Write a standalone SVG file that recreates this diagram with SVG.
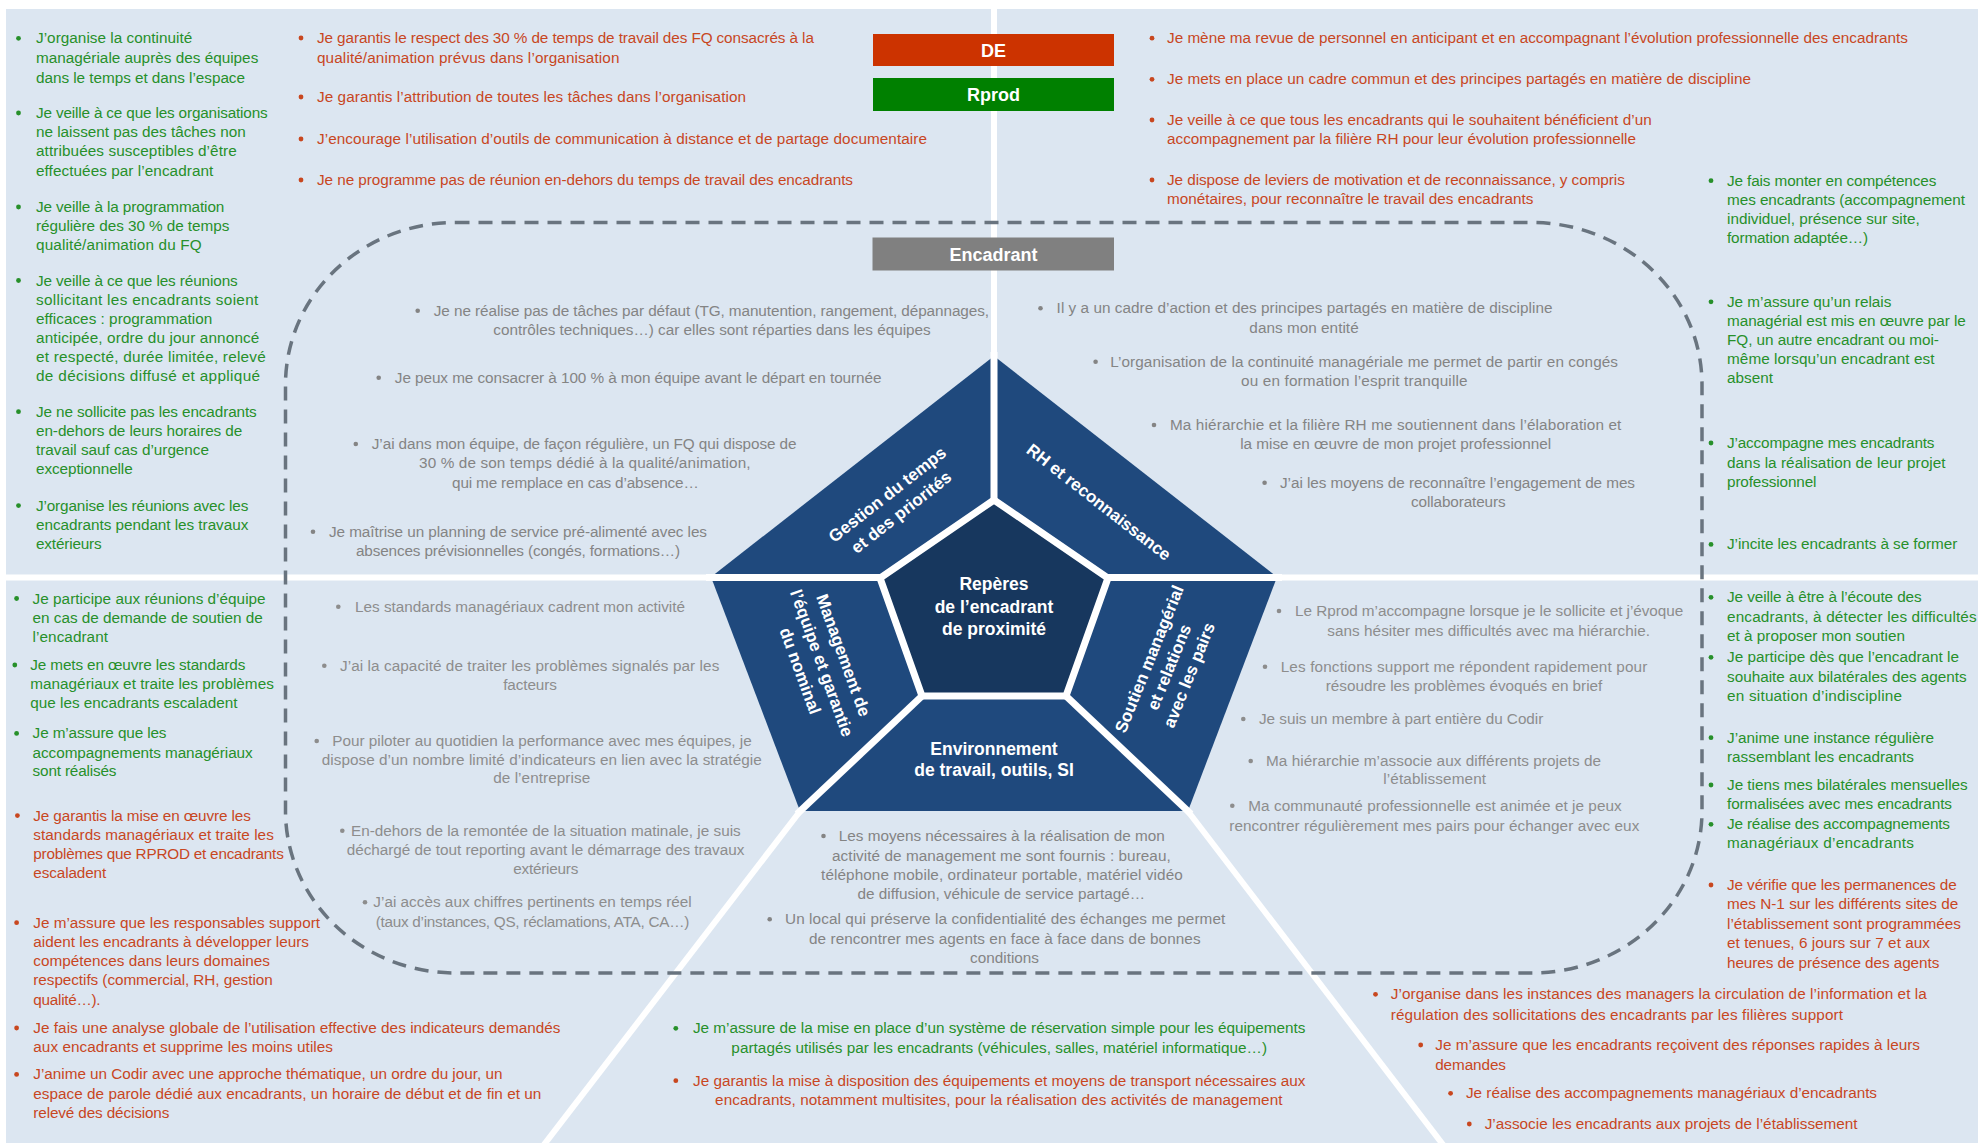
<svg xmlns="http://www.w3.org/2000/svg" width="1978" height="1143" viewBox="0 0 1978 1143">
<defs>
<style>
text { font-family: "Liberation Sans", Arial, sans-serif; font-size: 15.3px; }
.g { fill: #27902a; }
.r { fill: #c8471f; }
.k1 { fill: #848484; }
.k2 { fill: #8d8d8d; }
.c { text-anchor: middle; }
.lbl { fill: #ffffff; font-weight: bold; text-anchor: middle; font-size: 18px; }
.pl { fill: #ffffff; font-weight: bold; text-anchor: middle; font-size: 17px; }
.div { stroke: #ffffff; stroke-width: 6; fill: none; }
.spoke { stroke: #ffffff; stroke-width: 7; fill: none; }
</style>
</defs>

<rect x="0" y="0" width="1978" height="1143" fill="#ffffff"/>
<rect x="6" y="9" width="1972" height="1134" fill="#dce6f1"/>

<!-- dividers and frame -->
<g id="connectors">
  <line class="div" x1="994" y1="0" x2="994" y2="360"/>
  <line class="div" x1="0" y1="577.5" x2="714" y2="577.5"/>
  <line class="div" x1="1274" y1="577.5" x2="1978" y2="577.5"/>
  <line class="div" x1="801" y1="810" x2="543" y2="1146"/>
  <line class="div" x1="1187" y1="810" x2="1444" y2="1146"/>
  <rect x="285.5" y="222.5" width="1416.5" height="750.5" rx="170" ry="162" fill="none" stroke="#69747f" stroke-width="3.5" stroke-dasharray="14 9"/>
</g>

<!-- role banners -->
<g id="node-de">
  <rect x="873" y="34" width="241" height="32" fill="#cc3300"/>
  <text class="lbl" x="993.5" y="56.5">DE</text>
</g>
<g id="node-rprod">
  <rect x="873" y="78" width="241" height="33" fill="#008000"/>
  <text class="lbl" x="993.5" y="101">Rprod</text>
</g>
<g id="node-encadrant">
  <rect x="872.5" y="237.5" width="241.5" height="33" fill="#808080"/>
  <text class="lbl" x="993.5" y="260.5">Encadrant</text>
</g>

<!-- pentagon -->
<g id="pentagon">
  <polygon points="994,356 711,577 800,811 1188,811 1277,577" fill="#1f497d"/>
  <line class="spoke" x1="994" y1="352" x2="994" y2="500"/>
  <line class="spoke" x1="706" y1="577.5" x2="880" y2="577.5"/>
  <line class="spoke" x1="1108" y1="577.5" x2="1282" y2="577.5"/>
  <line class="spoke" x1="797" y1="814" x2="922" y2="696"/>
  <line class="spoke" x1="1191" y1="814" x2="1066" y2="696"/>
  <polygon id="node-center" points="994,500 880,578 922,696 1066,696 1108,578" fill="#17375e" stroke="#ffffff" stroke-width="7" stroke-linejoin="miter"/>
  <g id="label-center">
    <text class="pl" x="994" y="590" style="font-size:17.5px">Repères</text>
    <text class="pl" x="994" y="613" style="font-size:17.5px">de l’encadrant</text>
    <text class="pl" x="994" y="635" style="font-size:17.5px">de proximité</text>
  </g>
  <g id="node-gestion" transform="translate(894,503) rotate(-38)">
    <text class="pl" x="0" y="-5">Gestion du temps</text>
    <text class="pl" x="0" y="17.5">et des priorités</text>
  </g>
  <g id="node-rh" transform="translate(1099,502) rotate(38)">
    <text class="pl" x="0" y="6">RH et reconnaissance</text>
  </g>
  <g id="node-management" transform="translate(822,663) rotate(70)">
    <text class="pl" x="0" y="-17">Management de</text>
    <text class="pl" x="0" y="6">l’équipe et garantie</text>
    <text class="pl" x="0" y="29">du nominal</text>
  </g>
  <g id="node-soutien" transform="translate(1169,667) rotate(-68)">
    <text class="pl" x="0" y="-15.5">Soutien managérial</text>
    <text class="pl" x="0" y="6">et relations</text>
    <text class="pl" x="0" y="27.5">avec les pairs</text>
  </g>
  <g id="node-environnement">
    <text class="pl" x="994" y="755" style="font-size:17.5px">Environnement</text>
    <text class="pl" x="994" y="776" style="font-size:17.5px">de travail, outils, SI</text>
  </g>
</g>

<!-- Rprod actions, time management -->
<g id="rprod-gestion">
  <circle class="g" cx="18.5" cy="38.3" r="2.4"/>
  <circle class="g" cx="18.5" cy="113" r="2.4"/>
  <circle class="g" cx="18.5" cy="207" r="2.4"/>
  <circle class="g" cx="18.5" cy="280.5" r="2.4"/>
  <circle class="g" cx="18.5" cy="411.7" r="2.4"/>
  <circle class="g" cx="18.5" cy="505.6" r="2.4"/>
  <text class="g" x="36" y="43.3" textLength="156.3">J’organise la continuité</text>
  <text class="g" x="36" y="63.3" textLength="222.3">managériale auprès des équipes</text>
  <text class="g" x="36" y="82.6" textLength="209">dans le temps et dans l’espace</text>
  <text class="g" x="36" y="118" textLength="231.7">Je veille à ce que les organisations</text>
  <text class="g" x="36" y="137.2" textLength="209.7">ne laissent pas des tâches non</text>
  <text class="g" x="36" y="156.2" textLength="200.7">attribuées susceptibles d’être</text>
  <text class="g" x="36" y="175.5" textLength="177.3">effectuées par l’encadrant</text>
  <text class="g" x="36" y="212" textLength="188.3">Je veille à la programmation</text>
  <text class="g" x="36" y="230.9" textLength="193.3">régulière des 30 % de temps</text>
  <text class="g" x="36" y="250.2" textLength="165.7">qualité/animation du FQ</text>
  <text class="g" x="36" y="285.5" textLength="201.7">Je veille à ce que les réunions</text>
  <text class="g" x="36" y="304.5" textLength="222.3">sollicitant les encadrants soient</text>
  <text class="g" x="36" y="323.8" textLength="176.3">efficaces  : programmation</text>
  <text class="g" x="36" y="343" textLength="223.3">anticipée, ordre du jour annoncé</text>
  <text class="g" x="36" y="362" textLength="229.7">et respecté,  durée limitée, relevé</text>
  <text class="g" x="36" y="381.3" textLength="224">de décisions diffusé et appliqué</text>
  <text class="g" x="36" y="416.7" textLength="220.7">Je ne sollicite pas les encadrants</text>
  <text class="g" x="36" y="436" textLength="206.3">en-dehors de leurs horaires de</text>
  <text class="g" x="36" y="455" textLength="173">travail sauf cas d’urgence</text>
  <text class="g" x="36" y="474.2" textLength="96.7">exceptionnelle</text>
  <text class="g" x="36" y="510.6" textLength="212.3">J’organise les réunions avec les</text>
  <text class="g" x="36" y="529.6" textLength="212.3">encadrants  pendant les travaux</text>
  <text class="g" x="36" y="548.9" textLength="65.7">extérieurs</text>
</g>

<!-- DE actions, time management -->
<g id="de-gestion">
  <circle class="r" cx="301" cy="38" r="2.4"/>
  <circle class="r" cx="301" cy="97" r="2.4"/>
  <circle class="r" cx="301" cy="139" r="2.4"/>
  <circle class="r" cx="301" cy="180" r="2.4"/>
  <text class="r" x="317" y="43" textLength="496.9">Je garantis le respect des 30 % de temps de travail des FQ consacrés à la</text>
  <text class="r" x="317" y="62.5" textLength="302.5">qualité/animation prévus dans l’organisation</text>
  <text class="r" x="317" y="102" textLength="429">Je garantis l’attribution de toutes les tâches dans l’organisation</text>
  <text class="r" x="317" y="144" textLength="610">J’encourage l’utilisation d’outils de communication à distance et de partage documentaire</text>
  <text class="r" x="317" y="185" textLength="536">Je ne programme pas de réunion en-dehors du temps de travail des encadrants</text>
</g>

<!-- DE actions, HR -->
<g id="de-rh">
  <circle class="r" cx="1152" cy="38.2" r="2.4"/>
  <circle class="r" cx="1152" cy="79.3" r="2.4"/>
  <circle class="r" cx="1152" cy="120" r="2.4"/>
  <circle class="r" cx="1152" cy="180" r="2.4"/>
  <text class="r" x="1167" y="43.2" textLength="741">Je mène ma revue de personnel en anticipant et en accompagnant l’évolution professionnelle des encadrants</text>
  <text class="r" x="1167" y="84.3" textLength="584">Je mets en place un cadre commun et des principes partagés en matière de discipline</text>
  <text class="r" x="1167" y="125" textLength="484.7">Je veille à ce que tous les encadrants qui le souhaitent bénéficient d’un</text>
  <text class="r" x="1167" y="144" textLength="469">accompagnement par la filière RH pour leur évolution professionnelle</text>
  <text class="r" x="1167" y="185" textLength="457.8">Je dispose de leviers de motivation et de reconnaissance,  y compris</text>
  <text class="r" x="1167" y="204.3" textLength="366.4">monétaires,  pour reconnaître le travail des encadrants</text>
</g>

<!-- Rprod actions, HR -->
<g id="rprod-rh">
  <circle class="g" cx="1711" cy="180.7" r="2.4"/>
  <circle class="g" cx="1711" cy="301.8" r="2.4"/>
  <circle class="g" cx="1711" cy="443" r="2.4"/>
  <circle class="g" cx="1711" cy="544.4" r="2.4"/>
  <text class="g" x="1727" y="185.7" textLength="209.3">Je fais monter en compétences</text>
  <text class="g" x="1727" y="205" textLength="238">mes encadrants (accompagnement</text>
  <text class="g" x="1727" y="224.3" textLength="192.7">individuel, présence sur site,</text>
  <text class="g" x="1727" y="243.2" textLength="141">formation adaptée…)</text>
  <text class="g" x="1727" y="306.8" textLength="164.3">Je m’assure qu’un relais</text>
  <text class="g" x="1727" y="326.1" textLength="238.8">managérial est mis en œuvre par le</text>
  <text class="g" x="1727" y="345" textLength="211.9">FQ, un autre encadrant ou moi-</text>
  <text class="g" x="1727" y="364.3" textLength="207.5">même lorsqu’un encadrant est</text>
  <text class="g" x="1727" y="383.2" textLength="46">absent</text>
  <text class="g" x="1727" y="448" textLength="207.5">J’accompagne mes encadrants</text>
  <text class="g" x="1727" y="467.5" textLength="218.5">dans la réalisation de leur projet</text>
  <text class="g" x="1727" y="486.8" textLength="89.5">professionnel</text>
  <text class="g" x="1727" y="549.4" textLength="230.3">J’incite les encadrants à se former</text>
</g>

<!-- Rprod and DE actions, managerial support -->
<g id="rprod-soutien">
  <circle class="g" cx="1711" cy="597.3" r="2.4"/>
  <circle class="g" cx="1711" cy="657.3" r="2.4"/>
  <circle class="g" cx="1711" cy="737.7" r="2.4"/>
  <circle class="g" cx="1711" cy="785" r="2.4"/>
  <circle class="g" cx="1711" cy="824.3" r="2.4"/>
  <circle class="r" cx="1711" cy="885" r="2.4"/>
  <text class="g" x="1727" y="602.3" textLength="194.7">Je veille à être à l’écoute des</text>
  <text class="g" x="1727" y="621.7" textLength="249.7">encadrants,  à détecter les difficultés</text>
  <text class="g" x="1727" y="641" textLength="178">et à proposer mon soutien</text>
  <text class="g" x="1727" y="662.3" textLength="232">Je participe dès que l’encadrant le</text>
  <text class="g" x="1727" y="681.7" textLength="239.7">souhaite aux bilatérales des agents</text>
  <text class="g" x="1727" y="701" textLength="175">en situation d’indiscipline</text>
  <text class="g" x="1727" y="742.7" textLength="207">J’anime une instance régulière</text>
  <text class="g" x="1727" y="761.7" textLength="187">rassemblant  les encadrants</text>
  <text class="g" x="1727" y="790" textLength="240.7">Je tiens mes bilatérales mensuelles</text>
  <text class="g" x="1727" y="809.3" textLength="225">formalisées avec mes encadrants</text>
  <text class="g" x="1727" y="829.3" textLength="223">Je réalise des accompagnements</text>
  <text class="g" x="1727" y="848.3" textLength="187">managériaux d’encadrants</text>
  <text class="r" x="1727" y="890" textLength="229.7">Je vérifie que les permanences de</text>
  <text class="r" x="1727" y="909.3" textLength="231.3">mes N-1 sur les différents sites de</text>
  <text class="r" x="1727" y="929" textLength="234">l’établissement sont programmées</text>
  <text class="r" x="1727" y="948.3" textLength="203">et tenues, 6 jours sur 7 et aux</text>
  <text class="r" x="1727" y="967.7" textLength="212.3">heures de présence des agents</text>
</g>

<!-- Rprod and DE actions, team management -->
<g id="rprod-management">
  <circle class="g" cx="16.6" cy="598.5" r="2.4"/>
  <circle class="g" cx="14.8" cy="665" r="2.4"/>
  <circle class="g" cx="16.6" cy="733.4" r="2.4"/>
  <circle class="r" cx="17.4" cy="815.6" r="2.4"/>
  <circle class="r" cx="16.6" cy="922.7" r="2.4"/>
  <circle class="r" cx="16.6" cy="1028" r="2.4"/>
  <circle class="r" cx="16.6" cy="1074.4" r="2.4"/>
  <text class="g" x="32.6" y="603.5" textLength="233">Je participe aux réunions d’équipe</text>
  <text class="g" x="32.6" y="622.9" textLength="230.1">en cas de demande de soutien de</text>
  <text class="g" x="32.6" y="641.9" textLength="75.4">l’encadrant</text>
  <text class="g" x="30.3" y="670" textLength="215">Je mets en œuvre les standards</text>
  <text class="g" x="30.3" y="689.4" textLength="243.5">managériaux et traite les problèmes</text>
  <text class="g" x="30.3" y="708.4" textLength="207.2">que les encadrants escaladent</text>
  <text class="g" x="32.6" y="738.4" textLength="133.9">Je m’assure que les</text>
  <text class="g" x="32.6" y="757.7" textLength="220.1">accompagnements managériaux</text>
  <text class="g" x="32.6" y="776" textLength="83.9">sont réalisés</text>
  <text class="r" x="33.3" y="820.6" textLength="217.5">Je garantis la mise en œuvre les</text>
  <text class="r" x="33.3" y="840.4" textLength="240.5">standards managériaux et traite les</text>
  <text class="r" x="33.3" y="859.3" textLength="250.5">problèmes que RPROD et encadrants</text>
  <text class="r" x="33.3" y="878.4" textLength="72.9">escaladent</text>
  <text class="r" x="33.3" y="927.7" textLength="286.7">Je m’assure que les responsables support</text>
  <text class="r" x="33.3" y="947" textLength="275.7">aident les encadrants à développer leurs</text>
  <text class="r" x="33.3" y="966.1" textLength="236.7">compétences dans leurs domaines</text>
  <text class="r" x="33.3" y="985" textLength="239.4">respectifs (commercial, RH, gestion</text>
  <text class="r" x="33.3" y="1004.5" textLength="67.3">qualité…).</text>
  <text class="r" x="33.3" y="1033" textLength="527.2">Je fais une analyse globale de l’utilisation effective des indicateurs demandés</text>
  <text class="r" x="33.3" y="1052.3" textLength="299.7">aux encadrants et supprime les moins utiles</text>
  <text class="r" x="33.3" y="1079.4" textLength="469.1">J’anime un Codir avec une approche thématique, un ordre du jour, un</text>
  <text class="r" x="33.3" y="1098.7" textLength="508">espace de parole dédié aux encadrants, un horaire de début et de fin et un</text>
  <text class="r" x="33.3" y="1117.8" textLength="136.1">relevé des décisions</text>
</g>

<!-- Encadrant statements, time management -->
<g id="encadrant-gestion">
  <circle class="k1" cx="417.7" cy="310.7" r="2.3"/>
  <circle class="k1" cx="378.7" cy="377.7" r="2.3"/>
  <circle class="k1" cx="355.8" cy="444" r="2.3"/>
  <circle class="k1" cx="313" cy="531.7" r="2.3"/>
  <text class="k1" x="433.8" y="315.7" textLength="555.2">Je ne réalise pas de tâches par défaut (TG, manutention, rangement, dépannages,</text>
  <text class="k1 c" x="712" y="335" textLength="437.5">contrôles techniques…) car elles sont réparties dans les équipes</text>
  <text class="k1" x="394.8" y="382.7" textLength="486.7">Je peux me consacrer à 100 % à mon équipe avant le départ en tournée</text>
  <text class="k1" x="371.8" y="449" textLength="424.7">J’ai dans mon équipe, de façon régulière, un FQ qui dispose de</text>
  <text class="k1 c" x="584.8" y="468.3" textLength="331.6">30 % de son temps dédié à la qualité/animation,</text>
  <text class="k1 c" x="575.4" y="487.7" textLength="246.7">qui me remplace en cas d’absence…</text>
  <text class="k1" x="329" y="536.7" textLength="378">Je maîtrise un planning de service pré-alimenté avec les</text>
  <text class="k1 c" x="518" y="556" textLength="324.2">absences prévisionnelles (congés, formations…)</text>
</g>

<!-- Encadrant statements, HR -->
<g id="encadrant-rh">
  <circle class="k1" cx="1040.5" cy="308.3" r="2.3"/>
  <circle class="k1" cx="1095.6" cy="361.7" r="2.3"/>
  <circle class="k1" cx="1154" cy="425" r="2.3"/>
  <circle class="k1" cx="1264.6" cy="482.7" r="2.3"/>
  <text class="k1" x="1056.6" y="313.3" textLength="495.9">Il y a un cadre d’action et des principes partagés en matière de discipline</text>
  <text class="k1 c" x="1304" y="332.7" textLength="109.3">dans mon entité</text>
  <text class="k1" x="1110.3" y="366.7" textLength="507.7">L’organisation de la continuité managériale me permet de  partir en congés</text>
  <text class="k1 c" x="1354.3" y="386" textLength="226.5">ou en formation l’esprit tranquille</text>
  <text class="k1" x="1170" y="430" textLength="451.3">Ma hiérarchie et la filière RH me  soutiennent dans l’élaboration et</text>
  <text class="k1 c" x="1395.7" y="449.3" textLength="311">la mise en œuvre de mon projet professionnel</text>
  <text class="k1" x="1280" y="487.7" textLength="355">J’ai les moyens de reconnaître l’engagement de mes</text>
  <text class="k1 c" x="1458.3" y="506.7" textLength="94.6">collaborateurs</text>
</g>

<!-- Encadrant statements, team management -->
<g id="encadrant-management">
  <circle class="k2" cx="338.3" cy="606.7" r="2.3"/>
  <circle class="k2" cx="324.3" cy="665.7" r="2.3"/>
  <circle class="k2" cx="316.7" cy="741" r="2.3"/>
  <circle class="k2" cx="342.3" cy="830.7" r="2.3"/>
  <circle class="k2" cx="365" cy="902.3" r="2.3"/>
  <text class="k2" x="355" y="611.7" textLength="330">Les standards managériaux cadrent mon activité</text>
  <text class="k2" x="340" y="670.7" textLength="379.3">J’ai la capacité de traiter les problèmes  signalés par les</text>
  <text class="k2 c" x="530" y="690" textLength="53.7">facteurs</text>
  <text class="k2" x="332.3" y="746" textLength="419.4">Pour piloter au quotidien la performance avec mes équipes, je</text>
  <text class="k2 c" x="541.7" y="765" textLength="440">dispose d’un nombre limité d’indicateurs en lien avec la stratégie</text>
  <text class="k2 c" x="541.7" y="783.3" textLength="97">de l’entreprise</text>
  <text class="k2" x="351" y="835.7" textLength="389.7">En-dehors de la remontée de la situation matinale, je suis</text>
  <text class="k2 c" x="545.5" y="855" textLength="397.6">déchargé de tout reporting avant le démarrage des travaux</text>
  <text class="k2 c" x="545.8" y="874" textLength="65">extérieurs</text>
  <text class="k2" x="373.3" y="907.3" textLength="318.4">J’ai accès aux chiffres pertinents en temps réel</text>
  <text class="k2 c" x="532.5" y="927.3" textLength="313.6">(taux d’instances, QS, réclamations, ATA, CA…)</text>
</g>

<!-- Encadrant statements, managerial support -->
<g id="encadrant-soutien">
  <circle class="k2" cx="1279" cy="611" r="2.3"/>
  <circle class="k2" cx="1265" cy="666.7" r="2.3"/>
  <circle class="k2" cx="1243.3" cy="719" r="2.3"/>
  <circle class="k2" cx="1250.7" cy="761" r="2.3"/>
  <circle class="k2" cx="1232.3" cy="805.7" r="2.3"/>
  <text class="k2" x="1295" y="616" textLength="388.3">Le Rprod m’accompagne lorsque je le sollicite et j’évoque</text>
  <text class="k2 c" x="1488.7" y="636" textLength="322.7">sans hésiter mes difficultés avec ma hiérarchie.</text>
  <text class="k2" x="1280.7" y="671.7" textLength="366.6">Les fonctions support me répondent rapidement  pour</text>
  <text class="k2 c" x="1464" y="690.7" textLength="276.6">résoudre les problèmes évoqués en brief</text>
  <text class="k2" x="1259" y="724" textLength="284.3">Je suis un membre à part entière du Codir</text>
  <text class="k2" x="1266" y="766" textLength="335">Ma hiérarchie m’associe  aux différents projets de</text>
  <text class="k2 c" x="1434.7" y="784" textLength="102.7">l’établissement</text>
  <text class="k2" x="1248.3" y="810.7" textLength="373.4">Ma communauté professionnelle est animée et je peux</text>
  <text class="k2 c" x="1434.3" y="830.7" textLength="410">rencontrer régulièrement  mes pairs pour échanger avec eux</text>
</g>

<!-- Encadrant statements, work environment -->
<g id="encadrant-environnement">
  <circle class="k1" cx="823.5" cy="836" r="2.3"/>
  <circle class="k1" cx="769.7" cy="919.3" r="2.3"/>
  <text class="k1" x="838.8" y="841" textLength="325.9">Les moyens nécessaires à la réalisation de mon</text>
  <text class="k1 c" x="1001.4" y="861" textLength="338.7">activité de management me sont fournis : bureau,</text>
  <text class="k1 c" x="1001.9" y="880" textLength="361.7">téléphone mobile, ordinateur portable, matériel vidéo</text>
  <text class="k1 c" x="1001.3" y="899.3" textLength="287.4">de diffusion, véhicule de service partagé…</text>
  <text class="k1" x="785" y="924.3" textLength="440.3">Un local qui préserve la confidentialité des échanges me  permet</text>
  <text class="k1 c" x="1004.8" y="944.3" textLength="391.6">de rencontrer mes agents en face à face  dans de bonnes</text>
  <text class="k1 c" x="1004.5" y="963.3" textLength="69">conditions</text>
</g>

<!-- Rprod and DE actions, work environment -->
<g id="actions-environnement">
  <circle class="g" cx="675.8" cy="1028.3" r="2.4"/>
  <circle class="r" cx="675.8" cy="1080.7" r="2.4"/>
  <text class="g" x="692.9" y="1033.3" textLength="612.6">Je m’assure de la mise en place d’un système de réservation simple pour les équipements</text>
  <text class="g c" x="999.2" y="1053.3" textLength="535.7">partagés utilisés par les encadrants (véhicules, salles, matériel informatique…)</text>
  <text class="r" x="693" y="1085.7" textLength="612.5">Je garantis la mise à disposition des équipements et moyens de transport nécessaires  aux</text>
  <text class="r c" x="998.8" y="1105" textLength="567.5">encadrants,  notamment multisites, pour la réalisation des activités de management</text>
</g>

<!-- DE actions, managerial support -->
<g id="de-soutien">
  <circle class="r" cx="1375.5" cy="994.3" r="2.4"/>
  <circle class="r" cx="1420.7" cy="1045" r="2.4"/>
  <circle class="r" cx="1450.6" cy="1093.3" r="2.4"/>
  <circle class="r" cx="1469.3" cy="1124" r="2.4"/>
  <text class="r" x="1390.8" y="999.3" textLength="535.9">J’organise dans les instances des managers la circulation de l’information et la</text>
  <text class="r" x="1390.8" y="1020" textLength="452.2">régulation des sollicitations des encadrants par les filières support</text>
  <text class="r" x="1435.2" y="1050" textLength="484.8">Je m’assure que les encadrants reçoivent des réponses rapides à leurs</text>
  <text class="r" x="1435.2" y="1070" textLength="70.8">demandes</text>
  <text class="r" x="1466" y="1098.3" textLength="411">Je réalise des accompagnements managériaux d’encadrants</text>
  <text class="r" x="1484.7" y="1129" textLength="372.9">J’associe les encadrants aux projets de l’établissement</text>
</g>
</svg>
